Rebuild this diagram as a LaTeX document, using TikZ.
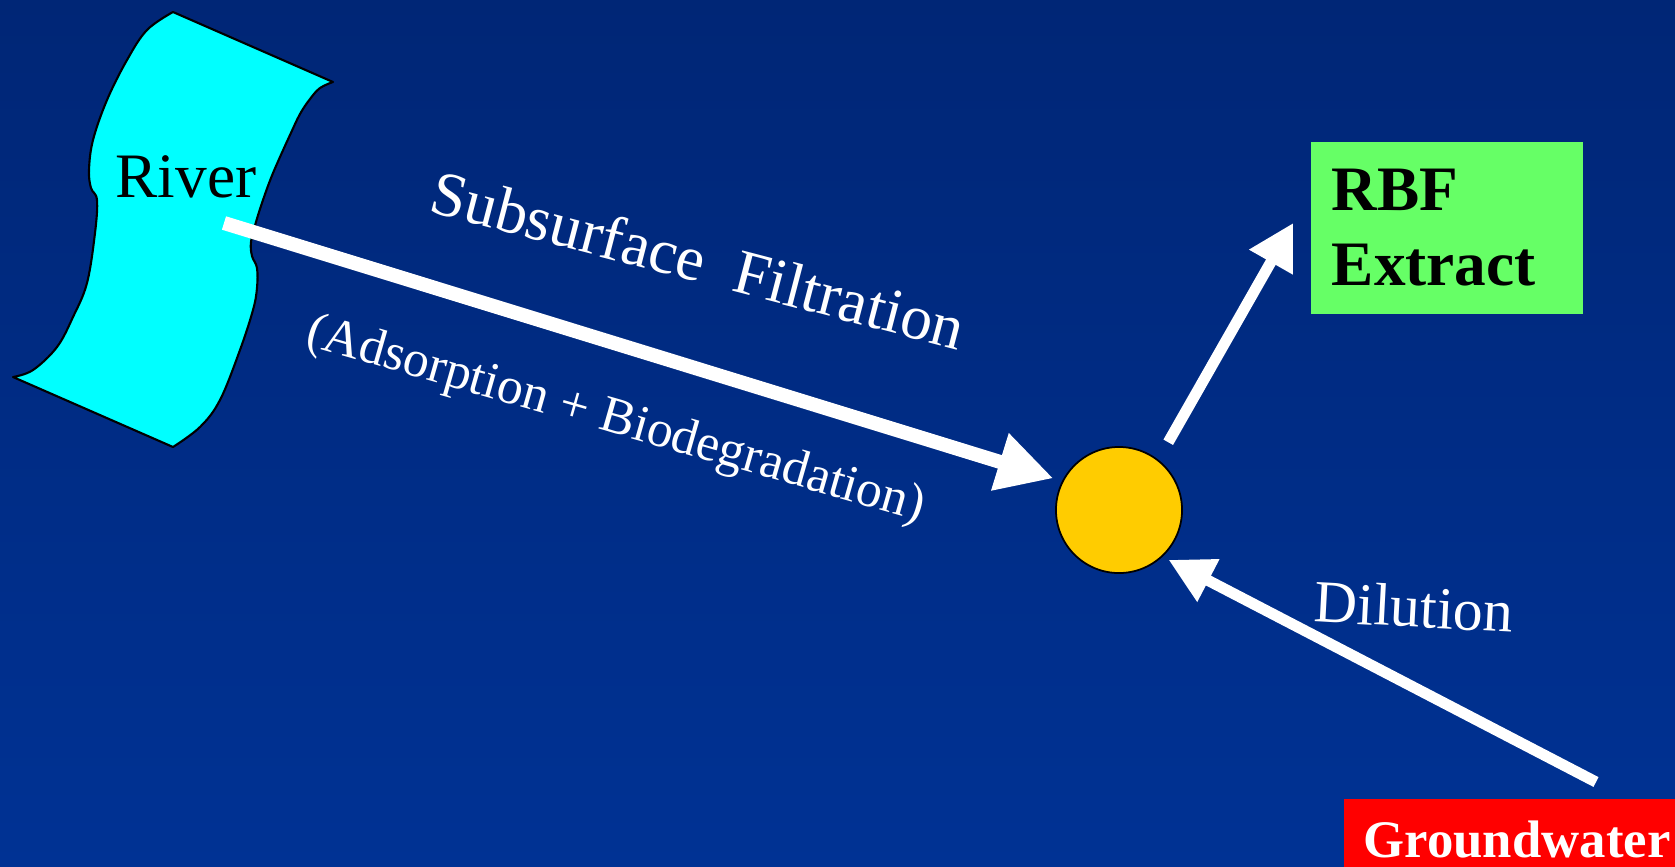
\documentclass[tikz,border=0pt]{standalone}
\usepackage{fontspec}
\setmainfont{Liberation Serif}
\usetikzlibrary{arrows.meta,calc,positioning}
\definecolor{bgtop}{RGB}{0,38,118}
\definecolor{bgbot}{RGB}{0,50,148}
\definecolor{rivercol}{RGB}{0,255,255}
\definecolor{spotcol}{RGB}{255,204,0}
\definecolor{rbfcol}{RGB}{102,255,102}
\definecolor{gwcol}{RGB}{255,0,0}

\begin{document}
\begin{tikzpicture}[x=0.01cm,y=-0.01cm,
	flow/.style={draw=white,line width=#1},
	lbl/.style={text=white,inner sep=0pt,anchor=base}]
	\useasboundingbox (0,0) rectangle (1675,866);
	\shade[top color=bgtop,bottom color=bgbot] (0,0) rectangle (1675,866);
	% river bank
	\draw[fill=rivercol,line width=0.6pt,line join=round] (173,12) -- (333,82)
		-- plot[smooth,tension=0.6] coordinates {(333,82) (320,88) (310,99) (300,114) (290,135) (280,157) (271,178) (263,200) (256,222) (251,242) (252,256) (257,268) (257,288) (253,310) (240,350) (220,400) (200,427) (173,447)}
		-- (13,377)
		-- plot[smooth,tension=0.6] coordinates {(13,377) (33,370) (57,347) (73,317) (87,283) (95,233) (97,200) (91,188) (89,170) (93,140) (107,100) (127,60) (147,30) (173,12)}
		-- cycle;
	\node (River) [anchor=base,inner sep=0pt,font=\fontsize{18}{21}\selectfont] at (186,197) {River};
	\coordinate (RiverSrc) at (224,223);
	\node (Spot) [circle,fill=spotcol,draw=black,line width=0.5pt,minimum size=1.26cm,inner sep=0pt] at (1119,510) {};
	\node (RBF) [fill=rbfcol,minimum width=2.72cm,minimum height=1.72cm,text width=2.3cm,align=left,font=\bfseries\fontsize{18}{21.3}\selectfont] at (1447,228) {RBF\\Extract};
	\node (Ground) [fill=gwcol,anchor=north west,text=white,text width=3.2cm,align=left,inner xsep=0.2cm,inner ysep=0.2cm,text height=0.39cm,font=\bfseries\fontsize{15}{18}\selectfont] at (1343,798) {Groundwater};
	\coordinate (GroundSrc) at (1596,782);
	% flows
	\draw[flow=0.14cm,-{Triangle[length=0.56cm,width=0.56cm]},shorten >=0.09cm] (RiverSrc) -- (Spot.153);
	\draw[flow=0.11cm,-{Triangle[length=0.45cm,width=0.47cm]},shorten <=0.2cm,shorten >=0.345cm] (Spot.52) -- ([yshift=0.35cm]RBF.west);
	\draw[flow=0.11cm,-{Triangle[length=0.45cm,width=0.45cm]},shorten >=0.066cm] (GroundSrc) -- (Spot.313);
	% labels
	\node (SubLbl) [lbl,rotate=-14.6,font=\fontsize{18}{21}\selectfont] at (693,281) {Subsurface\ \ Filtration};
	\node (ProcLbl) [lbl,rotate=-16,font=\fontsize{14.7}{17}\selectfont] at (612,433) {(Adsorption + Biodegradation)};
	\node (DilLbl) [lbl,rotate=-3,font=\fontsize{17}{20}\selectfont] at (1413,627) {Dilution};
\end{tikzpicture}
\end{document}
